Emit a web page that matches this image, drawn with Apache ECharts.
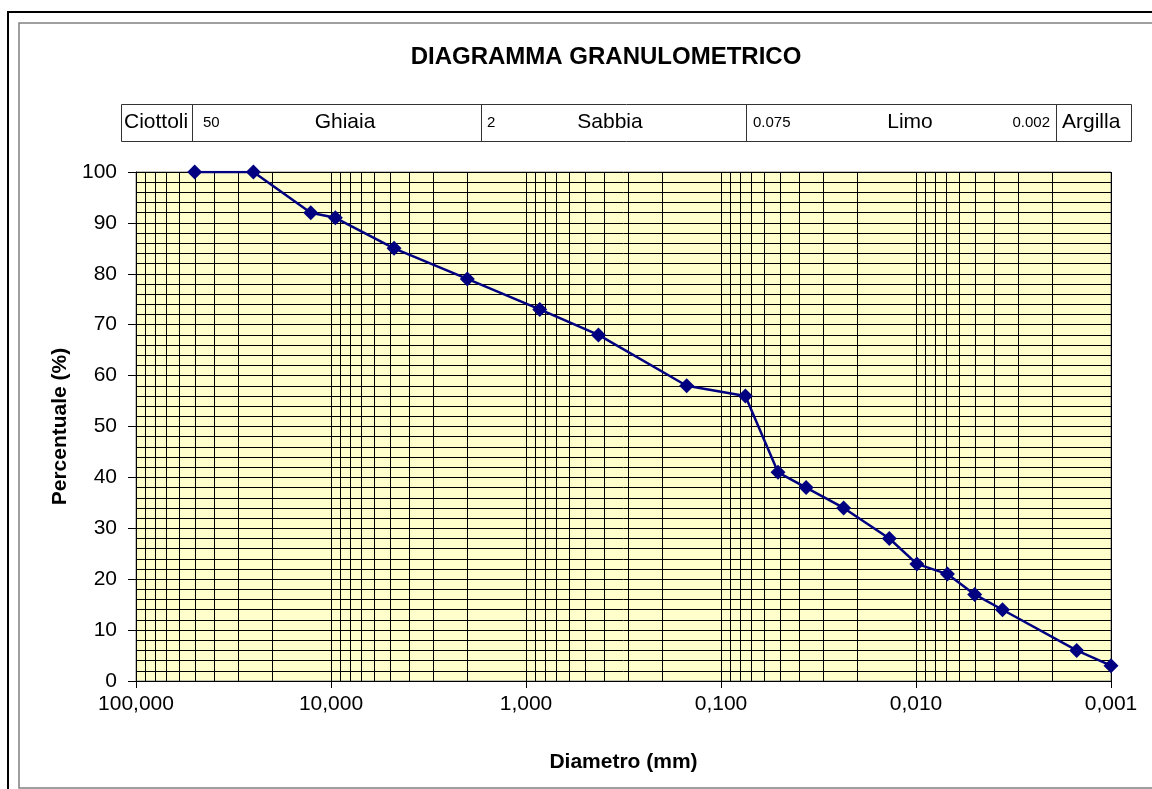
<!DOCTYPE html>
<html>
<head>
<meta charset="utf-8">
<title>Diagramma granulometrico</title>
<script src="https://cdn.jsdelivr.net/npm/echarts@6/dist/echarts.min.js"></script>
<style>
  html, body { margin: 0; padding: 0; background: #fff; }
  #chart { width: 1152px; height: 789px; }
</style>
</head>
<body>
<div id="chart"></div>
<script>
// Grain-size curve: sieve / sedimentation diameters (mm) and passing percentages
const diameters = [50, 25, 12.7, 9.5, 4.75, 2, 0.85, 0.425, 0.15, 0.075,
                   0.051, 0.0366, 0.0235, 0.0137, 0.0099, 0.0069, 0.005, 0.0036, 0.0015, 0.001];
const passing   = [100, 100, 92, 91, 85, 79, 73, 68, 58, 56,
                   41, 38, 34, 28, 23, 21, 17, 14, 6, 3];

// Soil classes shown in the band above the plot
const classNames  = ['Ciottoli', 'Ghiaia', 'Sabbia', 'Limo', 'Argilla'];
const classLimits = ['50', '2', '0.075', '0.002'];

const titleText = 'DIAGRAMMA GRANULOMETRICO';
const xName = 'Diametro (mm)';
const yName = 'Percentuale (%)';

// Intermediate log gridlines (2..9 in each decade)
const minorGrid = [];
for (let e = -3; e <= 1; e++) {
  for (let m = 2; m <= 9; m++) minorGrid.push([m * Math.pow(10, e), 0]);
}

const FONT = '"Liberation Sans", Arial, sans-serif';
const chart = echarts.init(document.getElementById('chart'), null, { renderer: 'canvas' });

const band = { x0: 121, x1: 1131, y0: 104, y1: 141, div: [192, 481, 746, 1056] };
const bandMid = (band.y0 + band.y1) / 2;

const graphic = [
  // outer frame
  { type: 'polyline', silent: true, shape: { points: [[8, 800], [8, 12], [1170, 12]] },
    style: { stroke: '#000', lineWidth: 2, fill: null } },
  { type: 'polyline', silent: true, shape: { points: [[1170, 23], [19, 23], [19, 788], [1170, 788]] },
    style: { stroke: '#808080', lineWidth: 1.5, fill: null } },
  // title
  { type: 'text', silent: true, x: 606, y: 57,
    style: { text: titleText, font: 'bold 24px ' + FONT, fill: '#000', align: 'center', verticalAlign: 'middle' } },
  // class band
  { type: 'rect', silent: true,
    shape: { x: band.x0 + 0.5, y: band.y0 + 0.5, width: band.x1 - band.x0, height: band.y1 - band.y0 },
    style: { stroke: '#333', lineWidth: 1, fill: '#fff' } }
];
band.div.forEach(function (x) {
  graphic.push({ type: 'line', silent: true,
    shape: { x1: x + 0.5, y1: band.y0, x2: x + 0.5, y2: band.y1 },
    style: { stroke: '#333', lineWidth: 1 } });
});
const bigFont = '21px ' + FONT;
const smallFont = '15px ' + FONT;
function bandText(text, x, align, font) {
  graphic.push({ type: 'text', silent: true, x: x, y: bandMid,
    style: { text: text, font: font, fill: '#000', align: align, verticalAlign: 'middle' } });
}
bandText(classNames[0], 124, 'left', bigFont);
bandText(classLimits[0], 203, 'left', smallFont);
bandText(classNames[1], 345, 'center', bigFont);
bandText(classLimits[1], 487, 'left', smallFont);
bandText(classNames[2], 610, 'center', bigFont);
bandText(classLimits[2], 753, 'left', smallFont);
bandText(classNames[3], 910, 'center', bigFont);
bandText(classLimits[3], 1050, 'right', smallFont);
bandText(classNames[4], 1062, 'left', bigFont);

chart.setOption({
  animation: false,
  backgroundColor: '#fff',
  textStyle: { fontFamily: FONT },
  graphic: graphic,
  grid: {
    left: 136, right: 41, top: 172, bottom: 108,
    show: true, backgroundColor: '#FFFFCC', borderColor: '#808080', borderWidth: 1
  },
  xAxis: {
    type: 'log', logBase: 10, min: 0.001, max: 100, inverse: true,
    name: xName, nameLocation: 'middle', nameGap: 71,
    nameTextStyle: { fontFamily: FONT, fontWeight: 'bold', fontSize: 21, color: '#000' },
    axisLine: { show: true, onZero: false, lineStyle: { color: '#000', width: 1 } },
    axisTick: { show: true, length: 7, inside: false, lineStyle: { color: '#000' } },
    axisLabel: {
      fontFamily: FONT, fontSize: 21, color: '#000', margin: 13,
      formatter: function (v) { return Number(v).toFixed(3).replace('.', ','); }
    },
    splitLine: { show: true, lineStyle: { color: '#000', width: 1 } },
    minorTick: { show: false }
  },
  yAxis: {
    type: 'value', min: 0, max: 100, interval: 10,
    name: yName, nameLocation: 'middle', nameGap: 63, nameRotate: 90,
    nameTextStyle: { fontFamily: FONT, fontWeight: 'bold', fontSize: 21, color: '#000' },
    axisLine: { show: true, lineStyle: { color: '#000', width: 1 } },
    axisTick: { show: true, length: 8, inside: false, lineStyle: { color: '#000' } },
    axisLabel: { fontFamily: FONT, fontSize: 21, color: '#000', margin: 19 },
    splitLine: { show: true, lineStyle: { color: '#000', width: 1 } },
    minorTick: { show: false, splitNumber: 5 },
    minorSplitLine: { show: true, lineStyle: { color: '#000', width: 1 } }
  },
  series: [
    {
      type: 'custom', name: 'grid', silent: true, z: 1,
      data: minorGrid,
      encode: { x: 0, y: 1 },
      renderItem: function (params, api) {
        const v = api.value(0);
        const top = api.coord([v, 100]);
        const bot = api.coord([v, 0]);
        const x = Math.round(top[0]) + 0.5;
        return { type: 'line', shape: { x1: x, y1: top[1], x2: x, y2: bot[1] },
                 style: { stroke: '#000', lineWidth: 1 } };
      }
    },
    {
      type: 'line', name: 'Passante', z: 5,
      data: diameters.map(function (d, i) { return [d, passing[i]]; }),
      symbol: 'diamond', symbolSize: 15, showAllSymbol: true,
      lineStyle: { color: '#000080', width: 2.5 },
      itemStyle: { color: '#000080' }
    }
  ]
});
</script>
</body>
</html>
